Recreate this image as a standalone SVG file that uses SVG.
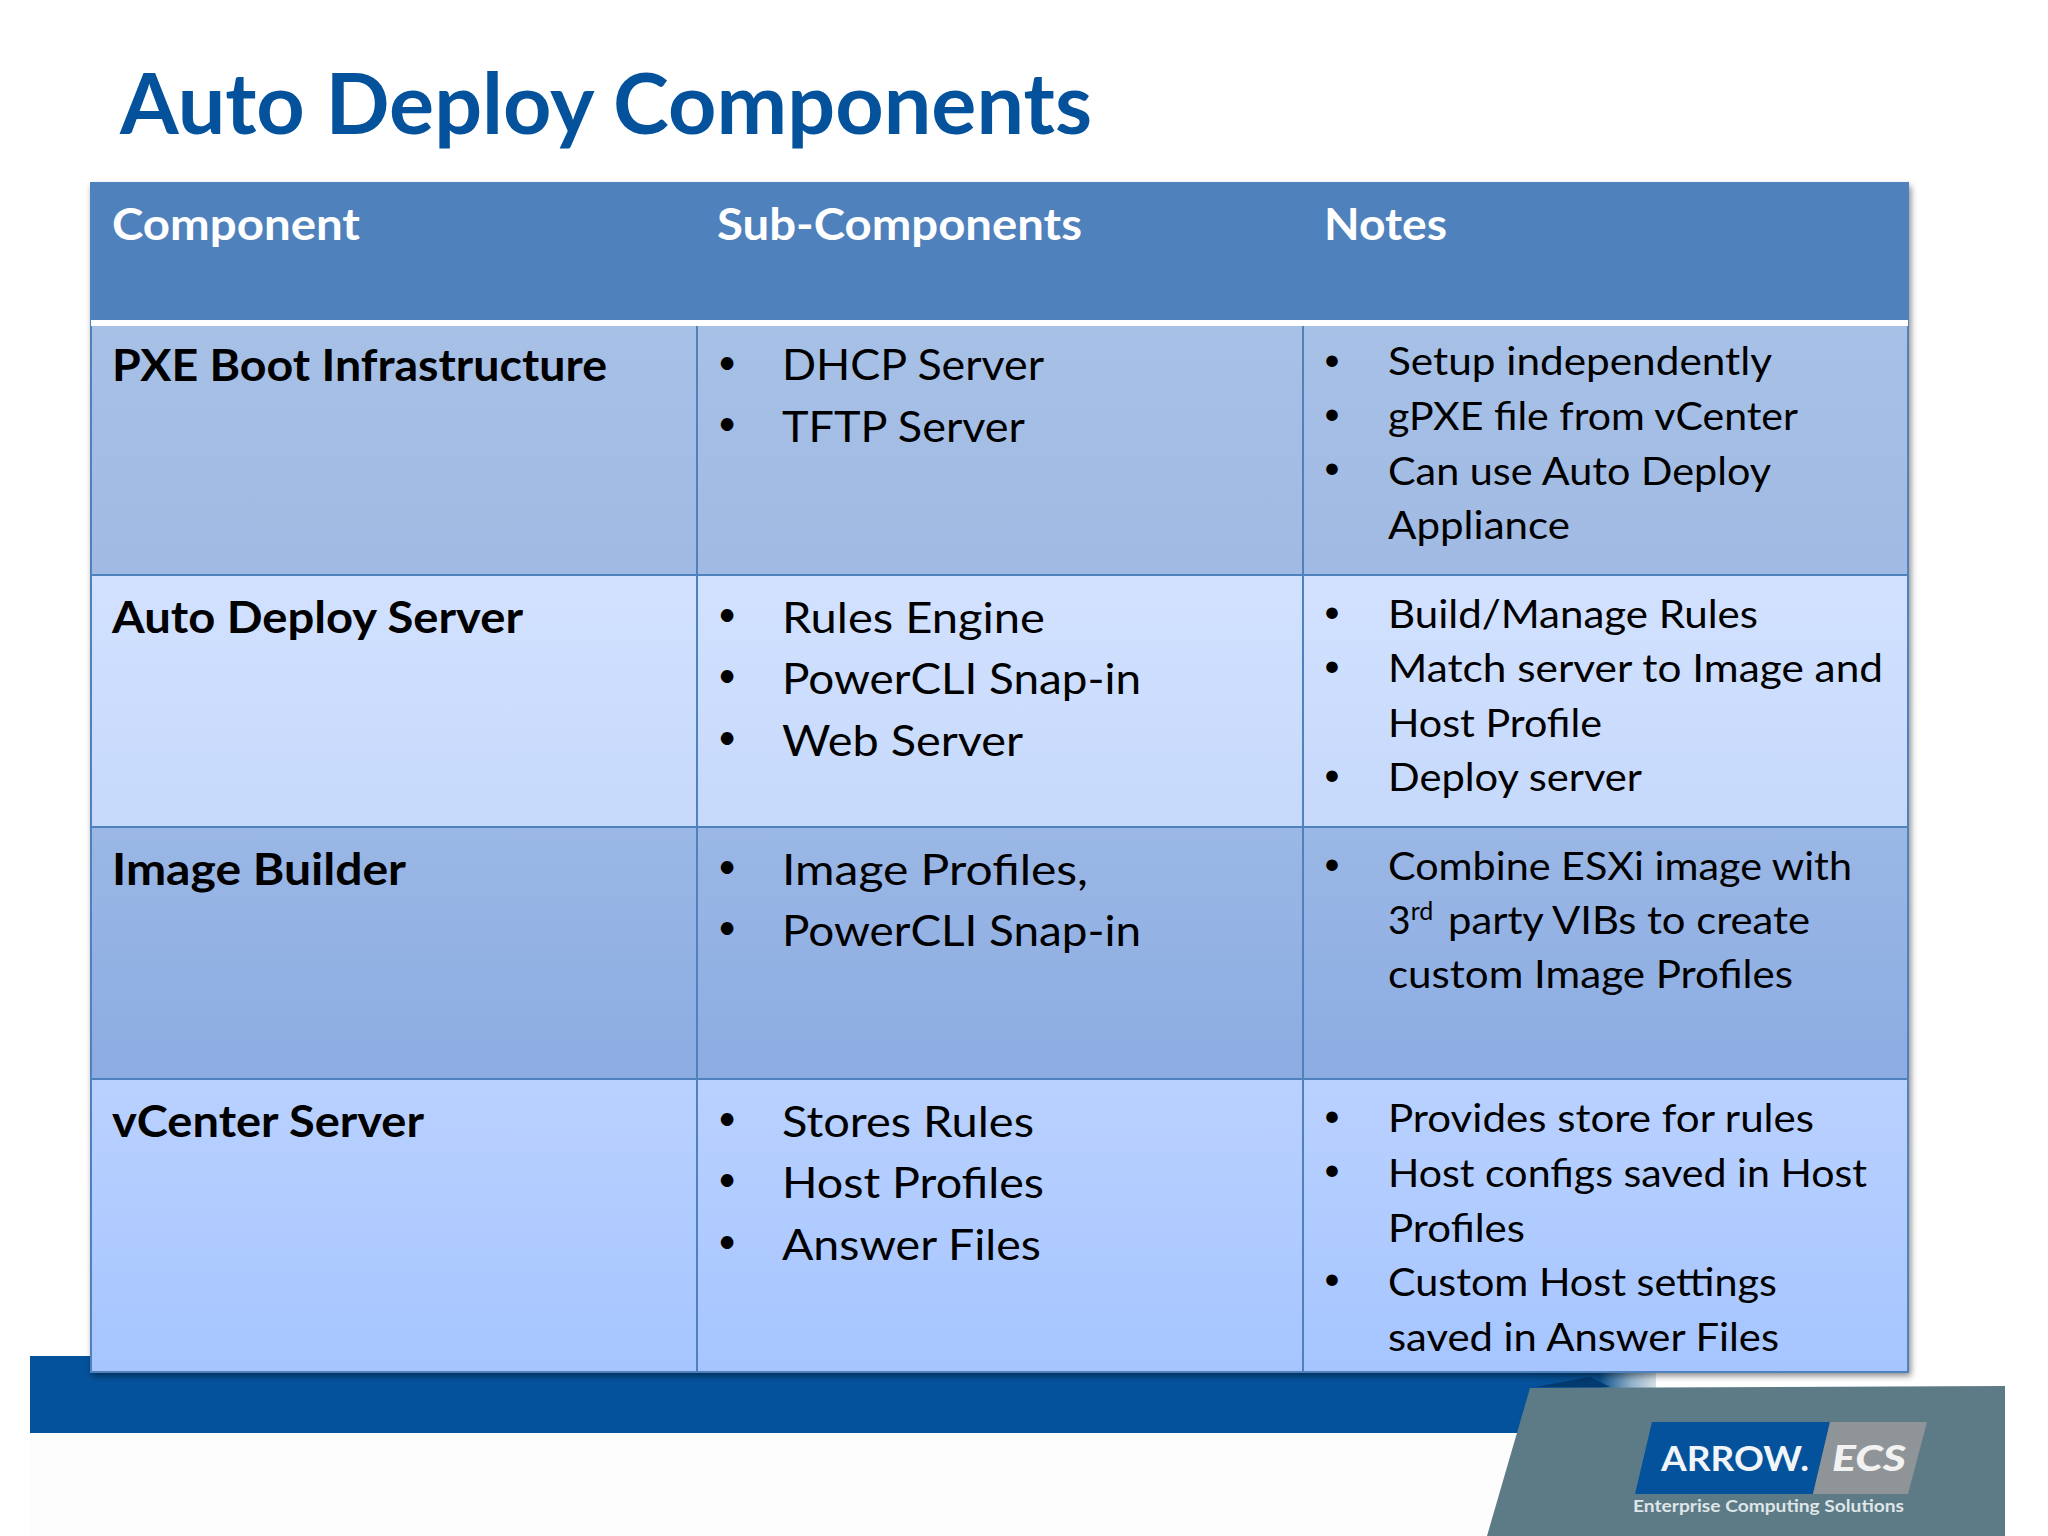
<svg xmlns="http://www.w3.org/2000/svg" width="2048" height="1536" viewBox="0 0 2048 1536">
<defs>
<style>
text{font-family:"Lato","Liberation Sans",sans-serif;fill:#000}
.title{font-size:84px;font-weight:700;fill:#04529c}
.h{font-size:43px;font-weight:700;fill:#fff}
.l{font-size:43px;font-weight:700}
.s{font-size:43px}
.n{font-size:39px}
.bs{font-size:34px;text-anchor:middle}
.bn{font-size:31px;text-anchor:middle}
.grid{stroke:#4f81bd;stroke-width:2;fill:none}
</style>
<linearGradient id="r1" x1="0" y1="0" x2="0" y2="1"><stop offset="0" stop-color="#a7c0e6"/><stop offset="1" stop-color="#a0bae3"/></linearGradient>
<linearGradient id="r2" x1="0" y1="0" x2="0" y2="1"><stop offset="0" stop-color="#d2e1ff"/><stop offset="1" stop-color="#c6d9fb"/></linearGradient>
<linearGradient id="r3" x1="0" y1="0" x2="0" y2="1"><stop offset="0" stop-color="#9ab7e5"/><stop offset="1" stop-color="#8cace2"/></linearGradient>
<linearGradient id="r4" x1="0" y1="0" x2="0" y2="1"><stop offset="0" stop-color="#b9d1ff"/><stop offset="1" stop-color="#a6c5ff"/></linearGradient>
<linearGradient id="streak" x1="0" y1="0" x2="1" y2="0"><stop offset="0" stop-color="#04529c"/><stop offset="0.55" stop-color="#0a4f8c"/><stop offset="0.8" stop-color="#8fb0c8"/><stop offset="1" stop-color="#d6e0e6"/></linearGradient>
<filter id="sh" x="-2%" y="-2%" width="104%" height="104%"><feDropShadow dx="2" dy="4" stdDeviation="3" flood-color="#000" flood-opacity="0.45"/></filter>
</defs>
<rect width="2048" height="1536" fill="#fff"/>
<rect x="30" y="1433" width="1500" height="103" fill="#fdfdfd"/>
<g id="footer">
<rect x="30" y="1356" width="1520" height="77" fill="#04529c"/>
<rect x="1530" y="1370" width="126" height="18" fill="url(#streak)"/>
<polygon points="1535,1387 1590,1377 1610,1387" fill="#033a70"/>
<polygon points="1530,1388 2005,1386 2005,1536 1487,1536" fill="#5d7a87"/>
</g>
<g id="logo">
<polygon points="1652,1422 1830,1422 1813,1494 1635,1494" fill="#04529c"/>
<polygon points="1830,1422 1927,1422 1908,1494 1813,1494" fill="#8f9498"/>
<text x="1661" y="1471" font-size="35" font-weight="700" style="fill:#f2f5f8" textLength="148" lengthAdjust="spacingAndGlyphs">ARROW.</text>
<text x="1832" y="1471" font-size="36" font-weight="900" font-style="italic" style="fill:#f2f2f2" textLength="74" lengthAdjust="spacingAndGlyphs">ECS</text>
<text x="1633" y="1512" font-size="17" font-weight="700" style="fill:#dfe6e8" textLength="271" lengthAdjust="spacingAndGlyphs">Enterprise Computing Solutions</text>
</g>
<text id="title" class="title" x="120" y="134" textLength="972" lengthAdjust="spacingAndGlyphs">Auto Deploy Components</text>
<g id="table">
<rect x="90" y="182" width="1819" height="1190" fill="#4f81bd" filter="url(#sh)"/>
<rect x="91" y="326" width="1817" height="249" fill="url(#r1)"/>
<rect x="91" y="575" width="1817" height="252" fill="url(#r2)"/>
<rect x="91" y="827" width="1817" height="252" fill="url(#r3)"/>
<rect x="91" y="1079" width="1817" height="293" fill="url(#r4)"/>
<rect x="91" y="320" width="1817" height="6" fill="#fff"/>
<path class="grid" d="M91,575H1908M91,827H1908M91,1079H1908M697,326V1372M1303,326V1372M91,326V1372H1908V326"/>
</g>
<g id="header">
<text class="h" x="112" y="240" textLength="248" lengthAdjust="spacingAndGlyphs">Component</text>
<text class="h" x="717" y="240" textLength="365" lengthAdjust="spacingAndGlyphs">Sub-Components</text>
<text class="h" x="1324" y="240" textLength="123" lengthAdjust="spacingAndGlyphs">Notes</text>
</g>
<g id="row-pxe">
<text class="l" x="112" y="381" textLength="495" lengthAdjust="spacingAndGlyphs">PXE Boot Infrastructure</text>
<text class="bs" x="727" y="374">•</text><text class="s" x="782" y="380" textLength="262" lengthAdjust="spacingAndGlyphs">DHCP Server</text>
<text class="bs" x="727" y="435">•</text><text class="s" x="782" y="442" textLength="243" lengthAdjust="spacingAndGlyphs">TFTP Server</text>
<text class="bn" x="1332" y="370">•</text><text class="n" x="1388" y="375" textLength="384" lengthAdjust="spacingAndGlyphs">Setup independently</text>
<text class="bn" x="1332" y="424">•</text><text class="n" x="1388" y="430" textLength="410" lengthAdjust="spacingAndGlyphs">gPXE file from vCenter</text>
<text class="bn" x="1332" y="478">•</text><text class="n" x="1388" y="485" textLength="383" lengthAdjust="spacingAndGlyphs">Can use Auto Deploy</text>
<text class="n" x="1388" y="539" textLength="182" lengthAdjust="spacingAndGlyphs">Appliance</text>
</g>
<g id="row-auto-deploy">
<text class="l" x="112" y="633" textLength="411" lengthAdjust="spacingAndGlyphs">Auto Deploy Server</text>
<text class="bs" x="727" y="626">•</text><text class="s" x="782" y="633" textLength="263" lengthAdjust="spacingAndGlyphs">Rules Engine</text>
<text class="bs" x="727" y="687">•</text><text class="s" x="782" y="694" textLength="359" lengthAdjust="spacingAndGlyphs">PowerCLI Snap-in</text>
<text class="bs" x="727" y="749">•</text><text class="s" x="782" y="756" textLength="241" lengthAdjust="spacingAndGlyphs">Web Server</text>
<text class="bn" x="1332" y="622">•</text><text class="n" x="1388" y="628" textLength="370" lengthAdjust="spacingAndGlyphs">Build/Manage Rules</text>
<text class="bn" x="1332" y="676">•</text><text class="n" x="1388" y="682" textLength="495" lengthAdjust="spacingAndGlyphs">Match server to Image and</text>
<text class="n" x="1388" y="737" textLength="214" lengthAdjust="spacingAndGlyphs">Host Profile</text>
<text class="bn" x="1332" y="785">•</text><text class="n" x="1388" y="791" textLength="254" lengthAdjust="spacingAndGlyphs">Deploy server</text>
</g>
<g id="row-image-builder">
<text class="l" x="112" y="885" textLength="294" lengthAdjust="spacingAndGlyphs">Image Builder</text>
<text class="bs" x="727" y="878">•</text><text class="s" x="782" y="885" textLength="306" lengthAdjust="spacingAndGlyphs">Image Profiles,</text>
<text class="bs" x="727" y="939">•</text><text class="s" x="782" y="946" textLength="359" lengthAdjust="spacingAndGlyphs">PowerCLI Snap-in</text>
<text class="bn" x="1332" y="874">•</text><text class="n" x="1388" y="880" textLength="464" lengthAdjust="spacingAndGlyphs">Combine ESXi image with</text>
<text class="n" x="1388" y="934">3<tspan font-size="25" dy="-14">rd</tspan><tspan dy="14" textLength="362" lengthAdjust="spacingAndGlyphs" x="1448">party VIBs to create</tspan></text>
<text class="n" x="1388" y="988" textLength="405" lengthAdjust="spacingAndGlyphs">custom Image Profiles</text>
</g>
<g id="row-vcenter">
<text class="l" x="112" y="1137" textLength="312" lengthAdjust="spacingAndGlyphs">vCenter Server</text>
<text class="bs" x="727" y="1130">•</text><text class="s" x="782" y="1137" textLength="252" lengthAdjust="spacingAndGlyphs">Stores Rules</text>
<text class="bs" x="727" y="1191">•</text><text class="s" x="782" y="1198" textLength="262" lengthAdjust="spacingAndGlyphs">Host Profiles</text>
<text class="bs" x="727" y="1253">•</text><text class="s" x="782" y="1260" textLength="259" lengthAdjust="spacingAndGlyphs">Answer Files</text>
<text class="bn" x="1332" y="1126">•</text><text class="n" x="1388" y="1132" textLength="426" lengthAdjust="spacingAndGlyphs">Provides store for rules</text>
<text class="bn" x="1332" y="1180">•</text><text class="n" x="1388" y="1187" textLength="479" lengthAdjust="spacingAndGlyphs">Host configs saved in Host</text>
<text class="n" x="1388" y="1242" textLength="137" lengthAdjust="spacingAndGlyphs">Profiles</text>
<text class="bn" x="1332" y="1289">•</text><text class="n" x="1388" y="1296" textLength="389" lengthAdjust="spacingAndGlyphs">Custom Host settings</text>
<text class="n" x="1388" y="1351" textLength="391" lengthAdjust="spacingAndGlyphs">saved in Answer Files</text>
</g>
</svg>
